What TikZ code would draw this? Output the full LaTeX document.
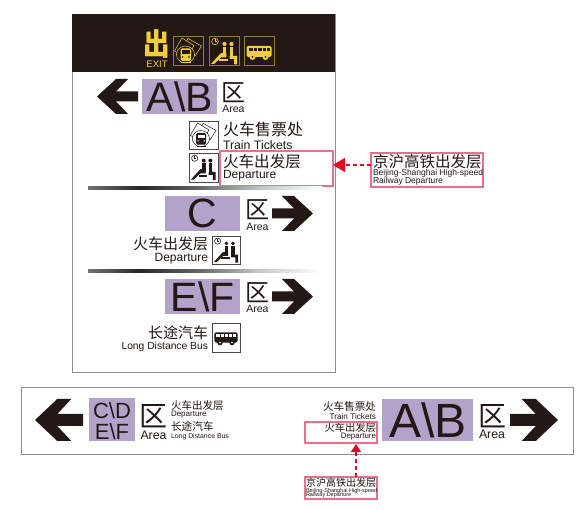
\documentclass[tikz,border=0pt]{standalone}
\usepackage{fontspec}
\setmainfont{Liberation Sans}
\newfontfamily\cjk{Noto Sans CJK SC}
\usetikzlibrary{arrows.meta}
\definecolor{ink}{HTML}{231815}
\definecolor{lilac}{HTML}{B3A3CB}
\definecolor{gold}{HTML}{F2CE3E}
\definecolor{olive}{HTML}{8F7B38}
\definecolor{tagred}{HTML}{E8708A}
\definecolor{redhead}{HTML}{E60023}
\definecolor{frame}{HTML}{8C8C8C}
\pgfdeclarehorizontalshading{fadebar}{100bp}{color(0bp)=(black!55); color(25bp)=(black!55); color(36bp)=(black!85); color(48bp)=(black!62); color(62bp)=(black!22); color(75bp)=(white); color(100bp)=(white)}
\tikzset{
  x=1pt,y=-1pt,
  fs/.style={font=\fontsize{#1}{#1}\selectfont},
  cs/.style={font=\cjk\fontsize{#1}{#1}\selectfont,text height=.86*#1 pt,text depth=.04*#1 pt},
  txt/.style={inner sep=0pt,outer sep=0pt,text=ink},
  anchorbox/.style={inner sep=0pt,outer sep=0pt,anchor=north west},
  tagline/.style={draw=tagred,line width=1.2pt},
  iconbox/.style={draw=frame!40!ink,line width=.7pt,fill=white,inner sep=0pt,anchor=north west},
  lilacbox/.style={fill=lilac,inner sep=0pt,text=ink,anchor=north west},
  redarrow/.style={draw=redhead,line width=1.1pt,dash pattern=on 4pt off 3pt,-{Triangle[length=12pt,width=14pt,fill=redhead]}},
  pics/chev/.style={code={\fill[ink] (0,12.5)--(22,12.5)--(10,0)--(22,0)--(41,17.5)--(22,35)--(10,35)--(22,22.5)--(0,22.5)--cycle;}},
  pics/ticketicon/.style 2 args={code={
    \draw[#1,line width=.5pt,fill=#2] (15,2.5)--(28.5,10)--(22,20)--(9,13)--cycle;
    \draw[#1,line width=.5pt,fill=#2] (9,2)--(21,9.5)--(13,23)--(1.5,15)--cycle;
    \draw[#1,line width=.5pt,fill=#2] (12.5,18.5) ellipse[x radius=9,y radius=8.5];
    \fill[#1,rounded corners=1.5pt] (7.5,12.5) rectangle (18,25);
    \fill[#2] (9,14.5) rectangle (16.5,18);
    \fill[#2] (9.5,21) circle[radius=.8] (16,21) circle[radius=.8];
    \draw[#1,line width=1pt] (8,27)--(17.5,27);
  }},
  pics/seaticon/.style 2 args={code={
    \draw[#1,line width=.6pt] (6,5.5) circle[radius=3.3];
    \draw[#1,line width=.5pt] (6,3.5)--(6,5.5)--(7.5,5.5);
    \fill[#1] (15.5,8) circle[radius=2.1] (22.5,8) circle[radius=2.1];
    \fill[#1] (13.6,11) rectangle (17.4,20);
    \fill[#1] (20.6,11) rectangle (24.4,22);
    \fill[#1] (12,17)--(17.4,17)--(17.4,21.5)--(12,21.5)--(5,28)--(2,28)--cycle;
    \fill[#1] (20.6,20)--(28,20)--(28,28.5)--(25,28.5)--(25,23)--(20.6,23)--cycle;
    \fill[#1] (10,23)--(19,23)--(19,25)--(10,25)--cycle;
  }},
  pics/busicon/.style 2 args={code={
    \fill[#1,rounded corners=1.5pt] (2.5,10) rectangle (27.5,21);
    \fill[#2] (4.5,12) rectangle (25.5,15);
    \foreach \xx in {9,13.5,18,22} {\draw[#1,line width=.5pt] (\xx,12)--(\xx,15);}
    \fill[#1] (8.5,21) circle[radius=3] (21.5,21) circle[radius=3];
    \fill[#2] (8.5,21) circle[radius=1] (21.5,21) circle[radius=1];
  }},
}
\begin{document}
\begin{tikzpicture}
\useasboundingbox (0,0) rectangle (582,510);
\fill[white] (0,0) rectangle (582,510);

% ---- vertical sign
\node[draw=frame,line width=.9pt,fill=white,anchor=north west,minimum width=263pt,minimum height=358pt,inner sep=0pt] (mainsign) at (72,14) {};
\node[fill=ink,anchor=north west,minimum width=263pt,minimum height=58pt,inner sep=0pt] (header) at (72,14) {};
\node[font=\cjk\bfseries\fontsize{28}{28}\selectfont,text=gold,inner sep=0pt,xscale=.95,yscale=1.08] (exitcn) at (157,44) {出};
\node[fs=9.5,text=gold,inner sep=0pt] (exiten) at (157,64) {EXIT};
\node[draw=olive,line width=.8pt,anchor=north west,minimum width=30pt,minimum height=29pt,inner sep=0pt] (h1) at (173,36) {};
\pic at (173,36) {ticketicon={gold}{ink}};
\node[draw=olive,line width=.8pt,anchor=north west,minimum width=30pt,minimum height=29pt,inner sep=0pt] (h2) at (209,36) {};
\pic at (209,36) {seaticon={gold}{ink}};
\node[draw=olive,line width=.8pt,anchor=north west,minimum width=30pt,minimum height=29pt,inner sep=0pt] (h3) at (244,36) {};
\pic at (244,36) {busicon={gold}{ink}};

% section A\B
\pic[xscale=-1] at (138,79) {chev};
\node[lilacbox,minimum width=75pt,minimum height=35pt,fs=41] (ab1) at (142,79) {A\textbackslash B};
\node[cs=24,txt] (q1) at (233.5,91.5) {区};
\node[fs=10.5,txt] (a1) at (233.5,108.5) {Area};
\node[iconbox,minimum width=29pt,minimum height=28pt] (i1) at (189,121) {};
\pic[scale=.95] at (189,121) {ticketicon={ink}{white}};
\node[iconbox,minimum width=29pt,minimum height=29pt] (i2) at (189,153) {};
\pic[scale=.95] at (189,153) {seaticon={ink}{white}};
\node[cs=16,txt,anchor=west] (t1) at (223,129) {火车售票处};
\node[fs=12.3,txt,anchor=west] (t2) at (223,145) {Train Tickets};
\node[cs=15.6,txt,anchor=west] (t3) at (223,161) {火车出发层};
\node[fs=12,txt,anchor=west] (t4) at (223,176) {Departure};
\node[anchorbox,minimum width=113pt,minimum height=35pt] (tagA) at (220,151) {};
\draw[tagline] (tagA.north west) rectangle (tagA.south east);

% divider 1
\path[shading=fadebar] (88,186.5) rectangle (322,189.5);

% section C
\node[lilacbox,minimum width=75pt,minimum height=35pt,fs=41] (c1) at (165,196) {C};
\node[cs=24,txt] (q2) at (257.5,209) {区};
\node[fs=10.5,txt] (a2) at (257.5,226.5) {Area};
\pic at (272,196) {chev};
\node[cs=15,txt,anchor=east] (t5) at (208,243) {火车出发层};
\node[fs=12,txt,anchor=east] (t6) at (208,258.5) {Departure};
\node[iconbox,minimum width=28pt,minimum height=28pt] (i3) at (212,236) {};
\pic[scale=.93] at (212,236) {seaticon={ink}{white}};

% divider 2
\path[shading=fadebar] (88,269.5) rectangle (320,272.5);

% section E\F
\node[lilacbox,minimum width=75pt,minimum height=35pt,fs=41] (ef1) at (165,279) {E\textbackslash F};
\node[cs=24,txt] (q3) at (257.5,291.5) {区};
\node[fs=10.5,txt] (a3) at (257.5,308.5) {Area};
\pic at (272,279) {chev};
\node[cs=15,txt,anchor=east] (t7) at (208,332) {长途汽车};
\node[fs=10.3,txt,anchor=east] (t8) at (208,347) {Long Distance Bus};
\node[iconbox,minimum width=28pt,minimum height=29pt] (i4) at (212,323) {};
\pic[scale=.93] at (212,323) {busicon={ink}{white}};

% ---- red callout right
\node[anchorbox,minimum width=112pt,minimum height=34pt] (srcA) at (371,153) {};
\draw[tagline] (srcA.north west) rectangle (srcA.south east);
\node[cs=15.5,txt,anchor=west] (s1) at (373,161) {京沪高铁出发层};
\node[fs=8.5,txt,anchor=west] (s2) at (373,173) {Beijing-Shanghai High-speed};
\node[fs=8.5,txt,anchor=west] (s3) at (373,181) {Railway Departure};
\coordinate (sa) at (371,165);
\coordinate (ta) at (333,165);
\draw[redarrow] (sa) -- (ta);

% ---- horizontal sign
\node[draw=frame,line width=.9pt,fill=white,anchor=north west,minimum width=552pt,minimum height=67pt,inner sep=0pt] (wide) at (21,387) {};
\pic[xscale=-1.17,yscale=1.2] at (83,399) {chev};
\node[lilacbox,minimum width=46pt,minimum height=43pt] (cdef) at (89,398) {};
\node[txt,align=center,font=\fontsize{22}{21}\selectfont] (cdeft) at (112,421) {C\textbackslash D\\E\textbackslash F};
\node[cs=28,txt] (q4) at (153,415) {区};
\node[fs=12.3,txt] (a4) at (153.5,435.5) {Area};
\node[cs=10.5,txt,anchor=west] (b1) at (171,405) {火车出发层};
\node[fs=8,txt,anchor=west] (b2) at (171,415) {Departure};
\node[cs=10.7,txt,anchor=west] (b3) at (171,426) {长途汽车};
\node[fs=6.9,txt,anchor=west] (b4) at (171,437) {Long Distance Bus};

\node[cs=10.6,txt,anchor=east] (b5) at (376,406) {火车售票处};
\node[fs=8.2,txt,anchor=east] (b6) at (376,417) {Train Tickets};
\node[cs=10.3,txt,anchor=east] (b7) at (376,427) {火车出发层};
\node[fs=7.9,txt,anchor=east] (b8) at (376,437) {Departure};
\node[anchorbox,minimum width=72pt,minimum height=21pt] (tagB) at (305,422) {};
\draw[tagline] (tagB.north west) rectangle (tagB.south east);
\node[lilacbox,minimum width=91pt,minimum height=42pt,fs=48] (ab2) at (382,399) {A\textbackslash B};
\node[cs=28,txt] (q5) at (492,415) {区};
\node[fs=12.3,txt] (a5) at (492,434.5) {Area};
\pic[xscale=1.17,yscale=1.2] at (510,399) {chev};

% ---- red callout below
\node[anchorbox,minimum width=72pt,minimum height=22pt] (srcB) at (305,477) {};
\draw[tagline] (srcB.north west) rectangle (srcB.south east);
\node[cs=10,txt,anchor=west] (s4) at (306,482) {京沪高铁出发层};
\node[fs=5.5,txt,anchor=west] (s5) at (306,491) {Beijing-Shanghai High-speed};
\node[fs=5.5,txt,anchor=west] (s6) at (306,495.5) {Railway Departure};
\coordinate (bt) at (356,477);
\coordinate (bh) at (356,444);
\draw[redarrow,-{Triangle[length=8pt,width=10pt,fill=redhead]}] (bt) -- (bh);
\end{tikzpicture}
\end{document}
